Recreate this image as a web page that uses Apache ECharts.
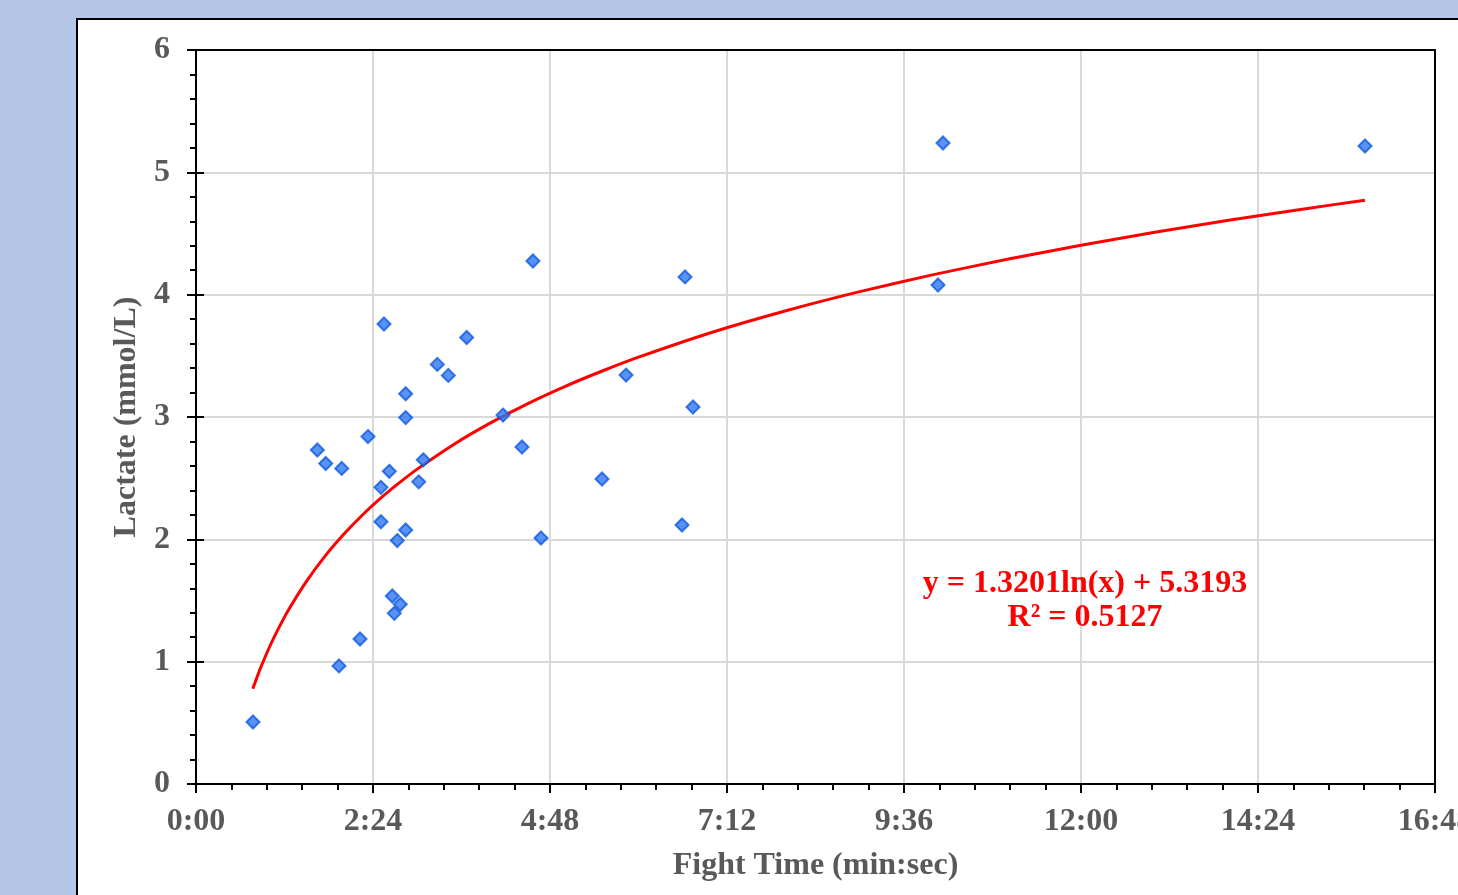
<!DOCTYPE html>
<html>
<head>
<meta charset="utf-8">
<script src="https://cdn.jsdelivr.net/npm/echarts@6/dist/echarts.min.js"></script>
<style>
    html, body { margin: 0; padding: 0; background: #b4c7e7; }
    #chart { width: 1458px; height: 895px; }
</style>
</head>
<body>
<div id="chart"></div>
<script>
    // fight time in minutes, lactate in mmol/L
    var fightTime = [0.773, 1.645, 1.759, 1.976, 1.939, 2.224, 2.332, 2.508, 2.508, 2.549,
        2.621, 2.662, 2.689, 2.729, 2.770, 2.843, 2.843, 2.843, 3.020, 3.082,
        3.272, 3.421, 3.670, 4.163, 4.420, 4.569, 4.678, 5.505, 5.831, 6.590,
        6.631, 6.739, 10.061, 10.129, 15.851];
    var lactate = [0.507, 2.73, 2.62, 2.58, 0.965, 1.185, 2.84, 2.425, 2.144, 3.76,
        2.556, 1.537, 1.395, 1.99, 1.469, 3.19, 2.995, 2.076, 2.47, 2.65,
        3.43, 3.34, 3.65, 3.016, 2.755, 4.275, 2.011, 2.493, 3.343, 2.117,
        4.145, 3.082, 4.079, 5.24, 5.215];

    // logarithmic trend line
    var trendTime = [0.77, 0.85, 0.9, 1, 1.1, 1.25, 1.5, 1.75, 2, 2.25, 2.5, 2.75, 3, 3.5, 4, 4.5, 5, 5.5, 6,
        7, 8, 9, 10, 11, 12, 13, 14, 15, 15.85];
    var trendLactate = [0.779, 0.909, 0.985, 1.124, 1.250, 1.419, 1.659, 1.863, 2.039, 2.195, 2.334, 2.459,
        2.574, 2.778, 2.954, 3.110, 3.249, 3.374, 3.489, 3.693, 3.869, 4.025, 4.164, 4.289, 4.404, 4.510,
        4.608, 4.699, 4.772];

    var xTicks = ['0:00', '2:24', '4:48', '7:12', '9:36', '12:00', '14:24', '16:48'];
    var yTicks = [0, 1, 2, 3, 4, 5, 6];

    var equation = ['y = 1.3201ln(x) + 5.3193', 'R\u00b2 = 0.5127'];

    var gray = '#595959';
    var font = '"Liberation Serif", "Times New Roman", serif';

    var points = [];
    for (var i = 0; i < fightTime.length; i++) {
        points.push([fightTime[i], lactate[i]]);
    }
    var trend = [];
    for (var j = 0; j < trendTime.length; j++) {
        trend.push([trendTime[j], trendLactate[j]]);
    }

    var mychart = echarts.init(document.getElementById('chart'));

    var xBase = {
        type: 'value', min: 0, max: 16.8, interval: 2.4,
        axisLine: { lineStyle: { color: '#000', width: 2 } }
    };
    var yBase = {
        type: 'value', min: 0, max: 6, interval: 1,
        axisLine: { lineStyle: { color: '#000', width: 2 } }
    };

    mychart.setOption({
        backgroundColor: '#b4c7e7',
        animation: false,
        graphic: [
            {
                type: 'rect', z: -10, silent: true,
                shape: { x: 77, y: 19, width: 1500, height: 1000 },
                style: { fill: '#fff', stroke: '#000', lineWidth: 2 }
            },
            {
                // plot area frame
                type: 'rect', z: 5, silent: true,
                shape: { x: 196, y: 50, width: 1239, height: 734 },
                style: { fill: null, stroke: '#000', lineWidth: 2 }
            },
            {
                type: 'text', z: 10, x: 1085, y: 567,
                style: {
                    text: equation.join('\n'), fill: '#ff0000', font: 'bold 32px ' + font,
                    align: 'center', verticalAlign: 'top', lineHeight: 34
                }
            }
        ],
        grid: {
            left: 196, top: 50, width: 1239, height: 734,
            outerBoundsMode: 'none', containLabel: false,
            show: true, borderColor: '#000', borderWidth: 2, backgroundColor: '#fff'
        },
        xAxis: [
            Object.assign({}, xBase, {
                name: 'Fight Time (min:sec)', nameLocation: 'middle', nameGap: 66,
                nameTextStyle: { color: gray, fontFamily: font, fontWeight: 'bold', fontSize: 32 },
                axisLabel: {
                    color: gray, fontFamily: font, fontWeight: 'bold', fontSize: 32, margin: 22,
                    formatter: function (v) { return xTicks[Math.round(v / 2.4)]; }
                },
                axisTick: { show: true, length: 9, lineStyle: { color: '#000', width: 2 } },
                minorTick: { show: true, splitNumber: 5, length: 6, lineStyle: { color: '#000', width: 2 } },
                splitLine: { show: true, lineStyle: { color: '#d9d9d9', width: 2 } }
            }),
            Object.assign({}, xBase, {
                axisLabel: { show: false },
                axisTick: { show: true, inside: true, length: 8, lineStyle: { color: '#000', width: 2 } },
                splitLine: { show: false }
            })
        ],
        yAxis: [
            Object.assign({}, yBase, {
                name: 'Lactate (mmol/L)', nameLocation: 'middle', nameGap: 52,
                nameTextStyle: { color: gray, fontFamily: font, fontWeight: 'bold', fontSize: 32 },
                axisLabel: {
                    color: gray, fontFamily: font, fontWeight: 'bold', fontSize: 32, margin: 26,
                    formatter: function (v) { return yTicks[Math.round(v)]; }
                },
                axisTick: { show: true, length: 9, lineStyle: { color: '#000', width: 2 } },
                minorTick: { show: true, splitNumber: 5, length: 6, lineStyle: { color: '#000', width: 2 } },
                splitLine: { show: true, lineStyle: { color: '#d9d9d9', width: 2 } }
            }),
            Object.assign({}, yBase, {
                position: 'left',
                axisLabel: { show: false },
                axisTick: { show: true, inside: true, length: 8, lineStyle: { color: '#000', width: 2 } },
                splitLine: { show: false }
            })
        ],
        series: [
            {
                type: 'line', data: trend, smooth: 0.2, symbol: 'none', z: 3,
                lineStyle: { color: '#ff0000', width: 3 }
            },
            {
                type: 'scatter', data: points, symbol: 'diamond', symbolSize: 13, z: 4,
                itemStyle: { color: '#3077f0', borderColor: '#0f5ae2', borderWidth: 2 }
            }
        ]
    });
</script>
</body>
</html>
